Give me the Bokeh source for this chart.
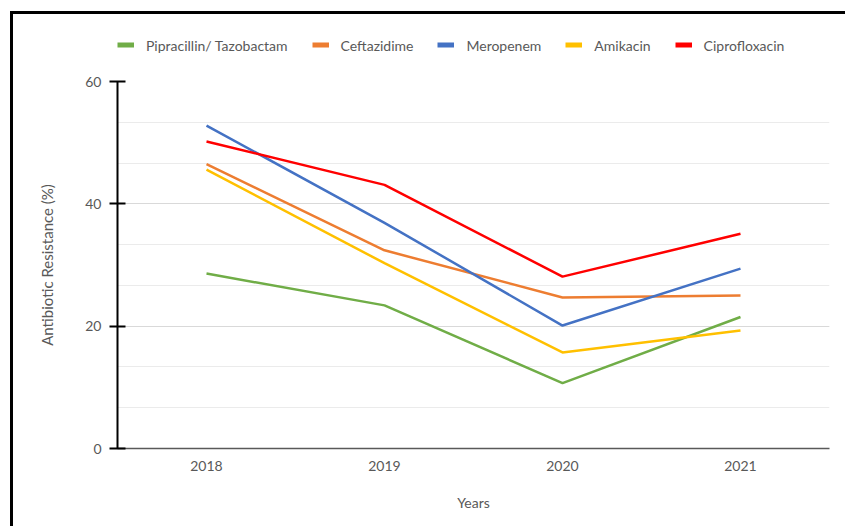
from bokeh.plotting import figure
from bokeh.models import Legend, LegendItem, FactorRange, SingleIntervalTicker, Column
from bokeh.embed import file_html
from bokeh.resources import INLINE

years = ["2018", "2019", "2020", "2021"]
pip_taz = [28.6, 23.4, 10.7, 21.5]
ceftazidime = [46.5, 32.4, 24.7, 25.0]
meropenem = [52.8, 36.9, 20.1, 29.4]
amikacin = [45.6, 30.3, 15.7, 19.3]
ciprofloxacin = [50.2, 43.1, 28.1, 35.1]

names = ["Pipracillin/ Tazobactam", "Ceftazidime", "Meropenem", "Amikacin", "Ciprofloxacin"]
colors = ["#70AD47", "#ED7D31", "#4472C4", "#FFC000", "#FF0000"]
values = [pip_taz, ceftazidime, meropenem, amikacin, ciprofloxacin]

FONT = "Lato"
TXT = "#595959"

# ---- legend strip (separate figure above the chart; its proxy lines lie out of view) ----
lg = figure(width=835, height=50, x_range=FactorRange(*years), y_range=(1000, 1001),
            x_axis_type=None, y_axis_type=None, output_backend="svg", toolbar_location=None,
            min_border_left=104, min_border_right=16, min_border_top=13, min_border_bottom=2)
lg.outline_line_color = None
lg.xgrid.visible = False
lg.ygrid.visible = False
items = []
for name, vals, color in zip(names, values, colors):
    r = lg.line(years, vals, line_color=color, line_width=5)
    items.append(LegendItem(label=name, renderers=[r]))
legend = Legend(items=items, orientation="horizontal", location="left",
                label_text_font=FONT, label_text_font_size="14px", label_text_color=TXT,
                glyph_width=17, glyph_height=16, label_height=16, spacing=24, label_standoff=12,
                border_line_color=None, background_fill_alpha=0, padding=0, margin=0)
lg.add_layout(legend, "center")

# ---- main chart ----
p = figure(width=835, height=465, x_range=FactorRange(*years), y_range=(0, 60),
           output_backend="svg", toolbar_location=None,
           min_border_left=104, min_border_right=16, min_border_top=17, min_border_bottom=81)
p.outline_line_color = None
p.background_fill_color = "white"

for name, vals, color in zip(names, values, colors):
    p.line(years, vals, line_color=color, line_width=2.5)

# y axis
p.yaxis.ticker = SingleIntervalTicker(interval=20, num_minor_ticks=3)
p.yaxis.axis_line_color = "black"
p.yaxis.axis_line_width = 2
p.yaxis.major_tick_line_color = "black"
p.yaxis.major_tick_line_width = 2
p.yaxis.major_tick_out = 8
p.yaxis.major_tick_in = 8
p.yaxis.minor_tick_line_color = None
p.yaxis.major_label_text_font = FONT
p.yaxis.major_label_text_font_size = "14px"
p.yaxis.major_label_text_color = TXT
p.yaxis.major_label_standoff = 8
p.yaxis.axis_label = "Antibiotic Resistance (%)"
p.yaxis.axis_label_text_font = FONT
p.yaxis.axis_label_text_font_style = "normal"
p.yaxis.axis_label_text_font_size = "15px"
p.yaxis.axis_label_text_color = TXT
p.yaxis.axis_label_standoff = 26

# x axis
p.xaxis.axis_line_color = "#595959"
p.xaxis.axis_line_width = 1.5
p.xaxis.major_tick_line_color = None
p.xaxis.minor_tick_line_color = None
p.xaxis.major_label_text_font = FONT
p.xaxis.major_label_text_font_size = "14px"
p.xaxis.major_label_text_color = TXT
p.xaxis.major_label_standoff = 6
p.xaxis.axis_label = "Years"
p.xaxis.axis_label_text_font = FONT
p.xaxis.axis_label_text_font_style = "normal"
p.xaxis.axis_label_text_font_size = "14px"
p.xaxis.axis_label_text_color = TXT
p.xaxis.axis_label_standoff = 20

p.xgrid.grid_line_color = None
p.ygrid.grid_line_color = "#D9D9D9"
p.ygrid.grid_line_width = 1
p.ygrid.minor_grid_line_color = "#EBEBEB"
p.ygrid.minor_grid_line_width = 1

root = Column(children=[lg, p], width=835, height=515, spacing=0,
              styles={"border-top": "3px solid black", "border-left": "3px solid black",
                      "margin-top": "11px", "margin-left": "10px", "background": "white"})

open("out.html", "w").write(file_html(root, INLINE))
